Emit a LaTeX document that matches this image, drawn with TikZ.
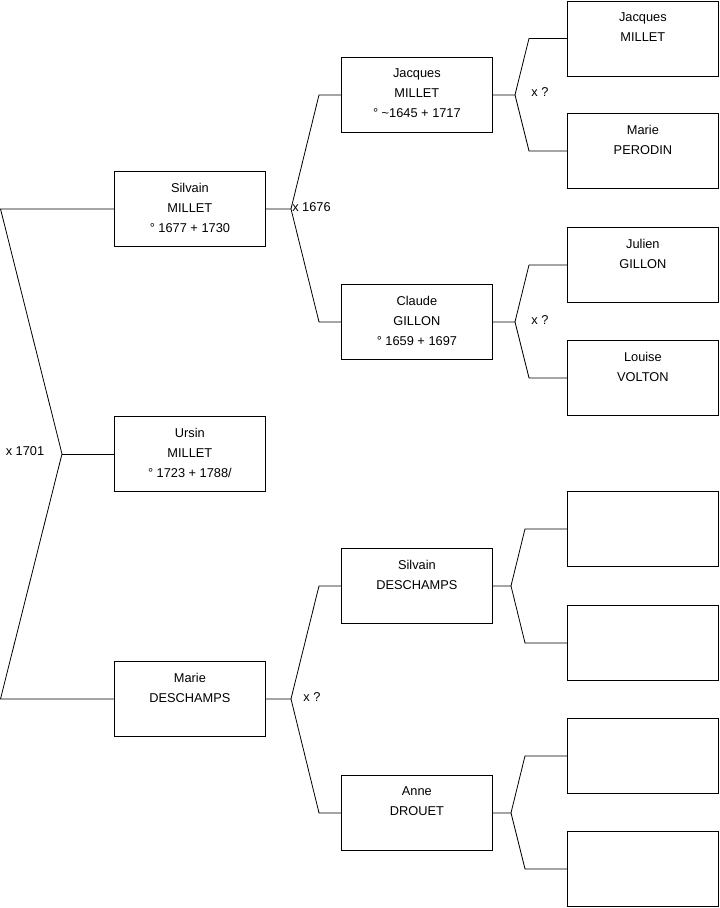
\documentclass[tikz,border=0pt]{standalone}
\usepackage{fontspec}
\setmainfont{Liberation Sans}
\usetikzlibrary{positioning}

\begin{document}
\begin{tikzpicture}[
    x=0.75pt, y=-0.75pt,
    every node/.style={font=\fontsize{9.6}{15}\selectfont},
    person/.style={rectangle, draw, line width=0.6pt, minimum width=113.25pt, minimum height=56.25pt, anchor=north west, inner sep=0pt},
    names/.style={anchor=north, align=center, inner sep=0pt, yshift=-8.8pt},
    link/.style={line width=0.6pt},
    union/.style={inner sep=0pt}
]
\useasboundingbox (0,0) rectangle (719,908);

% Generation 1
\node[person, label={[names]north:{Silvain\\MILLET\\° 1677 + 1730}}] (silvain) at (114,171) {};
\node[person, label={[names]north:{Ursin\\MILLET\\° 1723 + 1788/}}] (ursin) at (114,416) {};
\node[person, label={[names]north:{Marie\\DESCHAMPS}}] (marie) at (114,661) {};

% Generation 2
\node[person, label={[names]north:{Jacques\\MILLET\\° \textasciitilde1645 + 1717}}] (jacques) at (341,57) {};
\node[person, label={[names]north:{Claude\\GILLON\\° 1659 + 1697}}] (claude) at (341,284) {};
\node[person, label={[names]north:{Silvain\\DESCHAMPS}}] (silvaind) at (341,548) {};
\node[person, label={[names]north:{Anne\\DROUET}}] (anne) at (341,775) {};

% Generation 3
\node[person, label={[names]north:{Jacques\\MILLET}}] (jacquesf) at (567,0.5) {};
\node[person, label={[names]north:{Marie\\PERODIN}}] (perodin) at (567,113) {};
\node[person, label={[names]north:{Julien\\GILLON}}] (julien) at (567,227) {};
\node[person, label={[names]north:{Louise\\VOLTON}}] (louise) at (567,340) {};
\node[person] (sdfather) at (567,491) {};
\node[person] (sdmother) at (567,605) {};
\node[person] (adfather) at (567,718) {};
\node[person] (admother) at (567,831) {};

% Fork points
\coordinate (f0) at (62,0 |- ursin.west);
\coordinate (f0a) at (0.5,0 |- silvain.west);
\coordinate (f0b) at (0.5,0 |- marie.west);
\coordinate (f1) at (291,0 |- silvain.east);
\coordinate (f1a) at (319,0 |- jacques.west);
\coordinate (f1b) at (319,0 |- claude.west);
\coordinate (f2) at (291,0 |- marie.east);
\coordinate (f2a) at (319,0 |- silvaind.west);
\coordinate (f2b) at (319,0 |- anne.west);
\coordinate (f3) at (515,0 |- jacques.east);
\coordinate (f3a) at (529,0 |- jacquesf.west);
\coordinate (f3b) at (529,0 |- perodin.west);
\coordinate (f4) at (515,0 |- claude.east);
\coordinate (f4a) at (529,0 |- julien.west);
\coordinate (f4b) at (529,0 |- louise.west);
\coordinate (f5) at (511,0 |- silvaind.east);
\coordinate (f5a) at (525,0 |- sdfather.west);
\coordinate (f5b) at (525,0 |- sdmother.west);
\coordinate (f6) at (511,0 |- anne.east);
\coordinate (f6a) at (525,0 |- adfather.west);
\coordinate (f6b) at (525,0 |- admother.west);

% Connectors
\draw[link] (ursin.west) -- (f0);
\draw[link] (f0) -- (f0a) -- (silvain.west);
\draw[link] (f0) -- (f0b) -- (marie.west);
\draw[link] (silvain.east) -- (f1) -- (f1a) -- (jacques.west);
\draw[link] (f1) -- (f1b) -- (claude.west);
\draw[link] (marie.east) -- (f2) -- (f2a) -- (silvaind.west);
\draw[link] (f2) -- (f2b) -- (anne.west);
\draw[link] (jacques.east) -- (f3) -- (f3a) -- (jacquesf.west);
\draw[link] (f3) -- (f3b) -- (perodin.west);
\draw[link] (claude.east) -- (f4) -- (f4a) -- (julien.west);
\draw[link] (f4) -- (f4b) -- (louise.west);
\draw[link] (silvaind.east) -- (f5) -- (f5a) -- (sdfather.west);
\draw[link] (f5) -- (f5b) -- (sdmother.west);
\draw[link] (anne.east) -- (f6) -- (f6a) -- (adfather.west);
\draw[link] (f6) -- (f6b) -- (admother.west);

% Marriages
\node[union] (m0) at (25,451) {x 1701};
\node[union, anchor=west] (m1) at (292,207) {x 1676};
\node[union] (m2) at (312,697) {x ?};
\node[union] (m3) at (540,92) {x ?};
\node[union] (m4) at (540,320) {x ?};

\end{tikzpicture}
\end{document}
